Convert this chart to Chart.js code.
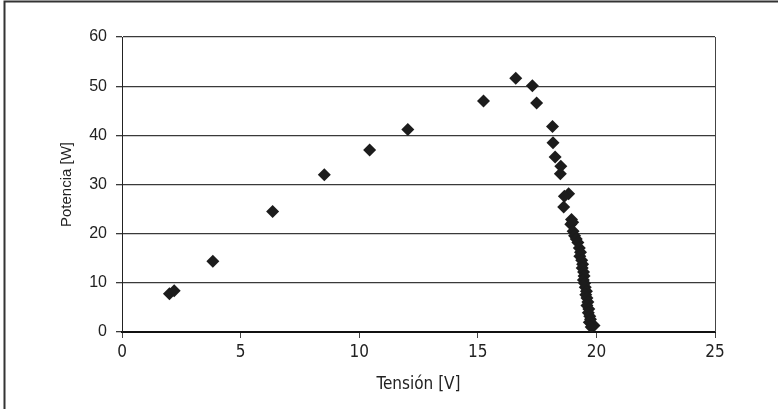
<!DOCTYPE html>
<html>
<head>
<meta charset="utf-8">
<script src="https://cdn.jsdelivr.net/npm/chart.js@4/dist/chart.umd.min.js"></script>
<style>
  html, body { margin: 0; padding: 0; background: #fff; }
  #wrap { width: 778px; height: 409px; position: relative; }
</style>
</head>
<body>
<div id="wrap"><canvas id="chart" width="778" height="409"></canvas></div>
<script>
// Tension [V] and power [W]
const tension = [
    2.0, 2.2, 3.83, 6.35, 8.53, 10.44, 12.05, 15.24, 16.6, 17.3, 17.48,
    18.15, 18.17, 18.26, 18.5, 18.48, 18.83, 18.65, 18.62,
    18.95, 19.0, 18.92, 19.02, 19.08, 19.15, 19.22, 19.28, 19.33, 19.3,
    19.38, 19.42, 19.4, 19.46, 19.48, 19.45, 19.5, 19.53, 19.58, 19.55,
    19.6, 19.64, 19.6, 19.68, 19.66, 19.72, 19.75, 19.7, 19.82, 19.9, 19.78
];
const potencia = [
    7.8, 8.4, 14.4, 24.5, 32.0, 37.0, 41.2, 47.0, 51.6, 50.1, 46.6,
    41.8, 38.5, 35.6, 33.7, 32.2, 28.1, 27.6, 25.4,
    22.9, 22.3, 21.9, 20.5, 19.6, 18.9, 18.2, 17.1, 16.2, 15.4,
    14.6, 13.8, 13.0, 12.2, 11.4, 10.6, 9.9, 9.1, 8.3, 7.6,
    6.9, 6.1, 5.4, 4.7, 3.9, 3.2, 2.6, 2.0, 1.6, 1.3, 1.0
];
const xTicks = [0, 5, 10, 15, 20, 25];
const yTicks = [0, 10, 20, 30, 40, 50, 60];

const points = tension.map((v, i) => ({ x: v, y: potencia[i] }));

const narrow = '"Liberation Sans Narrow", "DejaVu Sans Condensed", "Liberation Sans", sans-serif';
const regular = '"Liberation Sans", Arial, sans-serif';

// outer frame: left and top lines only, plus right border of the plot area
const framePlugin = {
    id: 'frame',
    afterDraw(chart) {
        const ctx = chart.ctx;
        const a = chart.chartArea;
        ctx.save();
        ctx.strokeStyle = '#333';
        ctx.lineWidth = 2;
        ctx.beginPath();
        ctx.moveTo(4.5, 409);
        ctx.lineTo(4.5, 1.5);
        ctx.lineTo(778, 1.5);
        ctx.stroke();
        ctx.lineWidth = 1;
        ctx.strokeStyle = '#444';
        ctx.beginPath();
        ctx.moveTo(a.right + 0.5, a.top);
        ctx.lineTo(a.right + 0.5, a.bottom);
        ctx.stroke();
        ctx.restore();
    }
};

new Chart(document.getElementById('chart'), {
    type: 'scatter',
    data: {
        datasets: [{
            data: points,
            pointStyle: 'rectRot',
            pointRadius: 6.5,
            pointHoverRadius: 6.5,
            backgroundColor: '#1c1c1c',
            borderColor: '#1c1c1c',
            borderWidth: 0
        }]
    },
    options: {
        responsive: false,
        animation: false,
        events: [],
        layout: { padding: { top: 37, right: 63, left: 54, bottom: 10 } },
        plugins: { legend: { display: false }, tooltip: { enabled: false } },
        scales: {
            x: {
                type: 'linear',
                min: 0,
                max: 25,
                afterBuildTicks: (axis) => { axis.ticks = xTicks.map(v => ({ value: v })); },
                afterFit: (axis) => { axis.height = 67; },
                border: { display: true, color: '#111', width: 2 },
                grid: { display: true, drawOnChartArea: false, drawTicks: true, tickLength: 6, color: '#444' },
                ticks: { color: '#222', font: { family: narrow, size: 17 }, padding: 4, maxRotation: 0 },
                title: { display: true, text: 'Tensión [V]', color: '#222', font: { family: narrow, size: 17 }, padding: { top: 4 } }
            },
            y: {
                type: 'linear',
                min: 0,
                max: 60,
                afterBuildTicks: (axis) => { axis.ticks = yTicks.map(v => ({ value: v })); },
                afterFit: (axis) => { axis.width = 68; },
                border: { display: true, color: '#222', width: 1 },
                grid: { color: '#3a3a3a', lineWidth: 1.3, tickLength: 6, drawTicks: true },
                ticks: { color: '#222', font: { family: regular, size: 16 }, padding: 9 },
                title: { display: true, text: 'Potencia [W]', color: '#222', font: { family: regular, size: 15 }, padding: { top: 4, bottom: 4 } }
            }
        }
    },
    plugins: [framePlugin]
});
</script>
</body>
</html>
